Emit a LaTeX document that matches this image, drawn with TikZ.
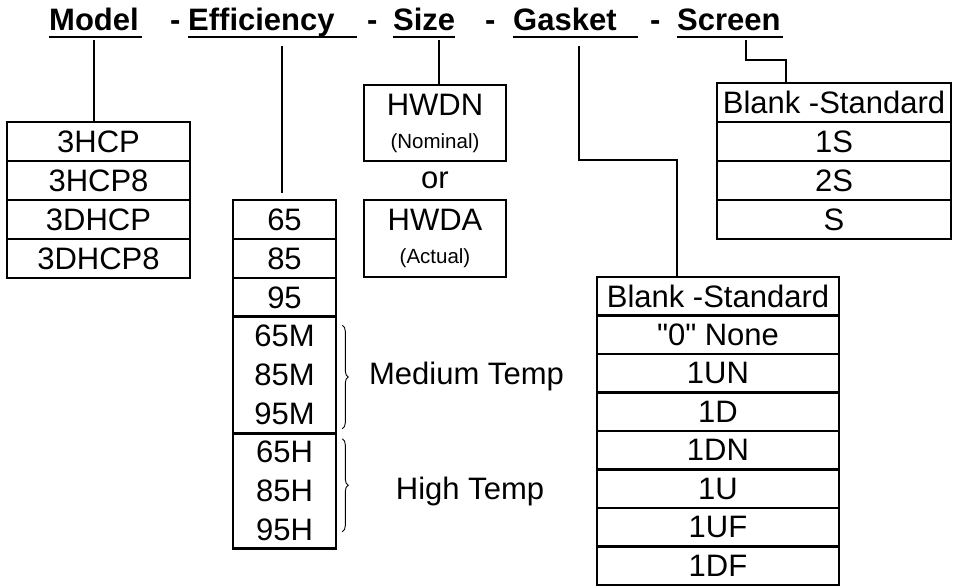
\documentclass[tikz,border=0pt]{standalone}
\usepackage{fontspec}
\setmainfont{Liberation Sans}
\newfontfamily\cellfont{Liberation Sans}
\newfontfamily\headfont{Liberation Sans}
\usetikzlibrary{calc,decorations.pathreplacing}
\newcommand\smalltxt[1]{{\fontsize{20.5}{32}\selectfont #1}}

\begin{document}
\begin{tikzpicture}[x=1pt,y=-1pt,
  head/.style={anchor=base west,inner sep=0pt,font=\headfont\bfseries\fontsize{31}{33}\selectfont},
  lbl/.style={inner sep=0pt,font=\cellfont\fontsize{31}{39}\selectfont},
  cell/.style={lbl,draw,line width=2.6pt,align=center},
  szbox/.style={cell,font=\cellfont\fontsize{31}{33}\selectfont},
  link/.style={line width=2.8pt},
  thinlink/.style={line width=1.8pt},
  uline/.style={line width=2.4pt},
  tbrace/.style={line width=0.9pt,decorate,decoration={brace,amplitude=6pt}}]
  \useasboundingbox (0,0) rectangle (954,587);

  % header line
  \node[head,text width=93pt] (model) at (49,30) {Model};
  \node[head] (d1) at (170,30) {-};
  \node[head,text width=169pt] (eff) at (188,30) {Efficiency};
  \node[head] (d2) at (367,30) {-};
  \node[head,text width=62pt] (size) at (393,30) {Size};
  \node[head] (d3) at (485,30) {-};
  \node[head,text width=125pt] (gasket) at (513,30) {Gasket};
  \node[head] (d4) at (650,30) {-};
  \node[head,text width=106pt] (screen) at (677,30) {Screen};
  \foreach \w in {model,eff,size,gasket,screen}
    \draw[uline] ([yshift=-7pt]\w.base west) -- ([yshift=-7pt]\w.base east);

  % model
  \foreach \t [count=\i] in {3HCP,3HCP8,3DHCP,3DHCP8}
    \node[cell,minimum width=183pt,minimum height=39pt] (m\i) at (98.5,102.5+39*\i) {\t};

  % efficiency
  \foreach \t [count=\i] in {65,85,95}
    \node[cell,minimum width=103pt,minimum height=39pt] (e\i) at (284.5,180.5+39*\i) {\t};
  \node[cell,minimum width=103pt,minimum height=117pt] (em) at (284.5,375) {65M\\85M\\95M};
  \node[cell,minimum width=103pt,minimum height=115pt] (eh) at (284.5,491) {65H\\85H\\95H};
  \draw[tbrace] ([xshift=5pt,yshift=-10pt]em.north east) -- ([xshift=5pt,yshift=6pt]em.south east);
  \draw[tbrace] ([xshift=5pt,yshift=-6.5pt]eh.north east) -- ([xshift=5pt,yshift=18pt]eh.south east);
  \node[lbl] (medium) at (466.5,376) {Medium Temp};
  \node[lbl] (high) at (470,491) {High Temp};

  % size
  \node[szbox,minimum width=142pt,minimum height=76pt] (sz1) at (435,123) {HWDN\\\smalltxt{(Nominal)}};
  \node[szbox,minimum width=142pt,minimum height=77pt] (sz2) at (435,238.5) {HWDA\\\smalltxt{(Actual)}};
  \node[lbl] (or) at ($(sz1.south)!0.5!(sz2.north)$) {or};

  % gasket
  \foreach \t [count=\i] in {Blank -Standard,"0" None,1UN,1D,1DN,1U,1UF,1DF}
    \node[cell,minimum width=242pt,minimum height=38.5pt] (g\i) at (718,257.75+38.5*\i) {\t};

  % screen
  \foreach \t [count=\i] in {Blank -Standard,1S,2S,S}
    \node[cell,minimum width=234pt,minimum height=39pt] (s\i) at (834,63.5+39*\i) {\t};

  % connectors
  \coordinate (mtop) at (94,40);
  \coordinate (etop) at (282,46);
  \coordinate (sztop) at (439,40);
  \coordinate (gtop) at (579,46);
  \coordinate (scrtop) at (746,40);
  \draw[link] (mtop) -- (mtop |- m1.north);
  \draw[link] (etop) -- ($(etop |- e1.north)+(0,-6)$);
  \draw[link] (sztop) -- (sztop |- sz1.north);
  \draw[thinlink] (gtop) -- ++(0,114) -| ([xshift=-41pt]g1.north);
  \draw[thinlink] (scrtop) -- ++(0,20) -| ([xshift=-48pt]s1.north);
\end{tikzpicture}
\end{document}
